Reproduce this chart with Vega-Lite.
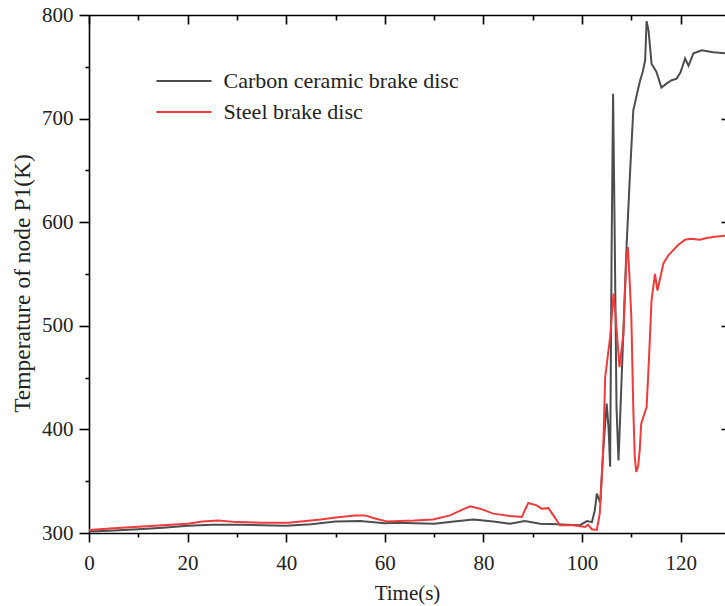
{
  "$schema": "https://vega.github.io/schema/vega-lite/v6.json",
  "width": 636,
  "height": 518,
  "autosize": {"type": "none"},
  "padding": {"left": 89, "top": 15, "right": 0, "bottom": 73},
  "background": "white",
  "config": {
    "view": {"stroke": null},
    "font": "Liberation Serif",
    "axis": {
      "grid": false,
      "domainColor": "#000",
      "tickColor": "#000",
      "domainWidth": 1.6,
      "tickWidth": 1.6,
      "labelFont": "Liberation Serif",
      "labelFontSize": 21,
      "labelColor": "#222",
      "titleFont": "Liberation Serif",
      "titleFontSize": 21,
      "titleFontWeight": "normal",
      "titleColor": "#222"
    },
    "legend": {
      "orient": "none",
      "legendX": 83,
      "legendY": 54,
      "title": null,
      "symbolType": "M-2.5,0H2.5",
      "symbolSize": 484,
      "symbolStrokeWidth": 2,
      "labelFont": "Liberation Serif",
      "labelFontSize": 22,
      "labelColor": "#222",
      "labelOffset": 27.5,
      "rowPadding": 8,
      "padding": 0,
      "labelLimit": 400
    }
  },
  "datasets": {
    "curves": [
      {"series": "Carbon ceramic brake disc", "t": 0, "T": 301.5},
      {"series": "Carbon ceramic brake disc", "t": 5, "T": 302.5},
      {"series": "Carbon ceramic brake disc", "t": 10, "T": 303.5},
      {"series": "Carbon ceramic brake disc", "t": 15, "T": 305},
      {"series": "Carbon ceramic brake disc", "t": 20, "T": 307},
      {"series": "Carbon ceramic brake disc", "t": 25, "T": 308},
      {"series": "Carbon ceramic brake disc", "t": 30, "T": 308},
      {"series": "Carbon ceramic brake disc", "t": 35, "T": 307.5},
      {"series": "Carbon ceramic brake disc", "t": 40, "T": 307},
      {"series": "Carbon ceramic brake disc", "t": 45, "T": 308.5},
      {"series": "Carbon ceramic brake disc", "t": 50, "T": 311},
      {"series": "Carbon ceramic brake disc", "t": 55, "T": 311.5},
      {"series": "Carbon ceramic brake disc", "t": 60, "T": 309.5},
      {"series": "Carbon ceramic brake disc", "t": 63, "T": 310},
      {"series": "Carbon ceramic brake disc", "t": 66, "T": 309.5},
      {"series": "Carbon ceramic brake disc", "t": 70, "T": 309},
      {"series": "Carbon ceramic brake disc", "t": 74, "T": 311},
      {"series": "Carbon ceramic brake disc", "t": 78, "T": 313},
      {"series": "Carbon ceramic brake disc", "t": 82, "T": 311},
      {"series": "Carbon ceramic brake disc", "t": 85.4, "T": 309},
      {"series": "Carbon ceramic brake disc", "t": 88.4, "T": 311.5},
      {"series": "Carbon ceramic brake disc", "t": 91.5, "T": 309},
      {"series": "Carbon ceramic brake disc", "t": 95, "T": 308.5},
      {"series": "Carbon ceramic brake disc", "t": 97, "T": 308},
      {"series": "Carbon ceramic brake disc", "t": 99.6, "T": 307.5},
      {"series": "Carbon ceramic brake disc", "t": 101, "T": 311.5},
      {"series": "Carbon ceramic brake disc", "t": 102, "T": 310.5},
      {"series": "Carbon ceramic brake disc", "t": 102.6, "T": 322},
      {"series": "Carbon ceramic brake disc", "t": 103, "T": 338},
      {"series": "Carbon ceramic brake disc", "t": 103.7, "T": 329},
      {"series": "Carbon ceramic brake disc", "t": 104.3, "T": 380},
      {"series": "Carbon ceramic brake disc", "t": 105, "T": 425},
      {"series": "Carbon ceramic brake disc", "t": 105.4, "T": 400},
      {"series": "Carbon ceramic brake disc", "t": 105.7, "T": 364},
      {"series": "Carbon ceramic brake disc", "t": 106, "T": 573},
      {"series": "Carbon ceramic brake disc", "t": 106.3, "T": 724},
      {"series": "Carbon ceramic brake disc", "t": 106.6, "T": 600},
      {"series": "Carbon ceramic brake disc", "t": 107, "T": 420},
      {"series": "Carbon ceramic brake disc", "t": 107.4, "T": 370},
      {"series": "Carbon ceramic brake disc", "t": 108.2, "T": 470},
      {"series": "Carbon ceramic brake disc", "t": 109, "T": 573},
      {"series": "Carbon ceramic brake disc", "t": 109.7, "T": 644},
      {"series": "Carbon ceramic brake disc", "t": 110.4, "T": 708},
      {"series": "Carbon ceramic brake disc", "t": 111.2, "T": 725},
      {"series": "Carbon ceramic brake disc", "t": 111.8, "T": 737},
      {"series": "Carbon ceramic brake disc", "t": 112.3, "T": 745},
      {"series": "Carbon ceramic brake disc", "t": 112.8, "T": 756},
      {"series": "Carbon ceramic brake disc", "t": 113.1, "T": 794},
      {"series": "Carbon ceramic brake disc", "t": 113.5, "T": 785},
      {"series": "Carbon ceramic brake disc", "t": 114.1, "T": 753},
      {"series": "Carbon ceramic brake disc", "t": 115.1, "T": 745},
      {"series": "Carbon ceramic brake disc", "t": 116.1, "T": 730},
      {"series": "Carbon ceramic brake disc", "t": 117.2, "T": 734},
      {"series": "Carbon ceramic brake disc", "t": 118.2, "T": 737},
      {"series": "Carbon ceramic brake disc", "t": 119.2, "T": 738.6},
      {"series": "Carbon ceramic brake disc", "t": 120, "T": 745},
      {"series": "Carbon ceramic brake disc", "t": 120.9, "T": 758},
      {"series": "Carbon ceramic brake disc", "t": 121.6, "T": 751},
      {"series": "Carbon ceramic brake disc", "t": 122.6, "T": 763},
      {"series": "Carbon ceramic brake disc", "t": 124.3, "T": 766},
      {"series": "Carbon ceramic brake disc", "t": 126.6, "T": 764},
      {"series": "Carbon ceramic brake disc", "t": 129, "T": 763},
      {"series": "Steel brake disc", "t": 0, "T": 303},
      {"series": "Steel brake disc", "t": 5, "T": 304.5},
      {"series": "Steel brake disc", "t": 10, "T": 306},
      {"series": "Steel brake disc", "t": 15, "T": 307.5},
      {"series": "Steel brake disc", "t": 20, "T": 309},
      {"series": "Steel brake disc", "t": 23, "T": 311},
      {"series": "Steel brake disc", "t": 26.2, "T": 312},
      {"series": "Steel brake disc", "t": 30, "T": 310.5},
      {"series": "Steel brake disc", "t": 35, "T": 310},
      {"series": "Steel brake disc", "t": 40.4, "T": 310},
      {"series": "Steel brake disc", "t": 44, "T": 311.5},
      {"series": "Steel brake disc", "t": 47, "T": 313},
      {"series": "Steel brake disc", "t": 50, "T": 315},
      {"series": "Steel brake disc", "t": 54, "T": 317},
      {"series": "Steel brake disc", "t": 56, "T": 317},
      {"series": "Steel brake disc", "t": 58, "T": 314},
      {"series": "Steel brake disc", "t": 60.6, "T": 311},
      {"series": "Steel brake disc", "t": 63, "T": 311.6},
      {"series": "Steel brake disc", "t": 66, "T": 312},
      {"series": "Steel brake disc", "t": 69.8, "T": 313},
      {"series": "Steel brake disc", "t": 73.2, "T": 317},
      {"series": "Steel brake disc", "t": 75.5, "T": 322},
      {"series": "Steel brake disc", "t": 77.3, "T": 325.8},
      {"series": "Steel brake disc", "t": 79.3, "T": 323.5},
      {"series": "Steel brake disc", "t": 82, "T": 318.7},
      {"series": "Steel brake disc", "t": 85.4, "T": 316.4},
      {"series": "Steel brake disc", "t": 87.8, "T": 315.4},
      {"series": "Steel brake disc", "t": 88.4, "T": 322},
      {"series": "Steel brake disc", "t": 89.1, "T": 329},
      {"series": "Steel brake disc", "t": 90.8, "T": 326.7},
      {"series": "Steel brake disc", "t": 91.8, "T": 323.5},
      {"series": "Steel brake disc", "t": 93.2, "T": 324},
      {"series": "Steel brake disc", "t": 94.2, "T": 317},
      {"series": "Steel brake disc", "t": 95.5, "T": 307.4},
      {"series": "Steel brake disc", "t": 98.2, "T": 307.4},
      {"series": "Steel brake disc", "t": 100.6, "T": 305.8},
      {"series": "Steel brake disc", "t": 101.2, "T": 308},
      {"series": "Steel brake disc", "t": 102, "T": 303.6},
      {"series": "Steel brake disc", "t": 103, "T": 303},
      {"series": "Steel brake disc", "t": 103.6, "T": 319},
      {"series": "Steel brake disc", "t": 104.3, "T": 380},
      {"series": "Steel brake disc", "t": 104.7, "T": 450.6},
      {"series": "Steel brake disc", "t": 105.7, "T": 489},
      {"series": "Steel brake disc", "t": 106.4, "T": 531},
      {"series": "Steel brake disc", "t": 106.8, "T": 510},
      {"series": "Steel brake disc", "t": 107.6, "T": 460},
      {"series": "Steel brake disc", "t": 108.4, "T": 492.6},
      {"series": "Steel brake disc", "t": 109, "T": 566},
      {"series": "Steel brake disc", "t": 109.3, "T": 576},
      {"series": "Steel brake disc", "t": 109.7, "T": 540},
      {"series": "Steel brake disc", "t": 110, "T": 508.5},
      {"series": "Steel brake disc", "t": 110.4, "T": 420},
      {"series": "Steel brake disc", "t": 110.7, "T": 373},
      {"series": "Steel brake disc", "t": 111, "T": 359},
      {"series": "Steel brake disc", "t": 111.4, "T": 365},
      {"series": "Steel brake disc", "t": 111.7, "T": 380},
      {"series": "Steel brake disc", "t": 112, "T": 405.6},
      {"series": "Steel brake disc", "t": 113.1, "T": 421.6},
      {"series": "Steel brake disc", "t": 113.6, "T": 470},
      {"series": "Steel brake disc", "t": 114.1, "T": 524.6},
      {"series": "Steel brake disc", "t": 114.8, "T": 550},
      {"series": "Steel brake disc", "t": 115.3, "T": 534},
      {"series": "Steel brake disc", "t": 115.8, "T": 545},
      {"series": "Steel brake disc", "t": 116.5, "T": 560},
      {"series": "Steel brake disc", "t": 117.5, "T": 568},
      {"series": "Steel brake disc", "t": 118.5, "T": 573},
      {"series": "Steel brake disc", "t": 119.5, "T": 578},
      {"series": "Steel brake disc", "t": 120.9, "T": 583},
      {"series": "Steel brake disc", "t": 122, "T": 584},
      {"series": "Steel brake disc", "t": 123.9, "T": 583},
      {"series": "Steel brake disc", "t": 125.5, "T": 585},
      {"series": "Steel brake disc", "t": 127, "T": 586},
      {"series": "Steel brake disc", "t": 129, "T": 587}
    ]
  },
  "data": {"name": "curves"},
  "layer": [
    {
      "mark": {"type": "line", "strokeWidth": 2, "clip": true},
      "encoding": {
        "x": {
          "field": "t", "type": "quantitative",
          "scale": {"domain": [0, 129], "nice": false, "zero": false},
          "axis": {"orient": "bottom", "values": [0, 20, 40, 60, 80, 100, 120], "tickSize": 9, "labelPadding": 10, "labelFlush": false, "title": "Time(s)", "titlePadding": 9}
        },
        "y": {
          "field": "T", "type": "quantitative",
          "scale": {"domain": [300, 800], "nice": false, "zero": false},
          "axis": {"orient": "left", "values": [300, 400, 500, 600, 700, 800], "tickSize": 10, "labelPadding": 6, "labelFlush": false, "title": "Temperature of node P1(K)", "titleFontSize": 23.5, "titlePadding": 7, "titleY": 268}
        },
        "color": {
          "field": "series", "type": "nominal",
          "scale": {"domain": ["Carbon ceramic brake disc", "Steel brake disc"], "range": ["#4d4d4d", "#ef3b3b"]},
          "legend": {"title": null}
        }
      }
    },
    {
      "mark": {"type": "point", "opacity": 0},
      "encoding": {
        "x": {"field": "t", "type": "quantitative", "axis": {"orient": "bottom", "values": [10, 30, 50, 70, 90, 110], "tickSize": 4, "labels": false, "domain": false, "title": null}},
        "y": {"field": "T", "type": "quantitative", "axis": {"orient": "left", "values": [350, 450, 550, 650, 750], "tickSize": 4, "labels": false, "domain": false, "title": null}}
      }
    },
    {
      "mark": {"type": "point", "opacity": 0},
      "encoding": {
        "x": {"field": "t", "type": "quantitative", "axis": {"orient": "top", "values": [0, 20, 40, 60, 80, 100, 120], "tickSize": -9, "labels": false, "domain": true, "title": null}},
        "y": {"field": "T", "type": "quantitative", "axis": {"orient": "right", "values": [400, 500, 600, 700], "tickSize": -4, "labels": false, "domain": false, "title": null}}
      }
    },
    {
      "mark": {"type": "point", "opacity": 0},
      "encoding": {
        "x": {"field": "t", "type": "quantitative", "axis": {"orient": "top", "values": [10, 30, 50, 70, 90, 110], "tickSize": -5, "labels": false, "domain": false, "title": null}},
        "y": {"field": "T", "type": "quantitative", "axis": null}
      }
    }
  ],
  "resolve": {"axis": {"x": "independent", "y": "independent"}}
}
